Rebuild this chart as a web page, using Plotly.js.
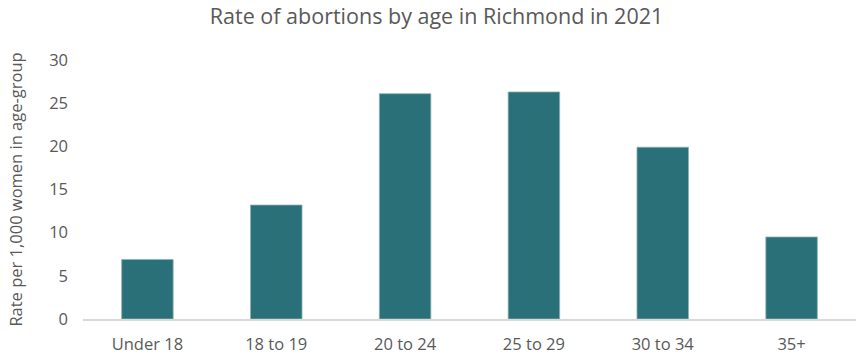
<!DOCTYPE html>
<html>
<head>
<meta charset="utf-8">
<script src="https://cdn.plot.ly/plotly-3.0.1.min.js"></script>
<style>html,body{margin:0;padding:0;background:#fff;}#chart{width:856px;height:356px;}</style>
</head>
<body>
<div id="chart"></div>
<script>
const categories = ["Under 18", "18 to 19", "20 to 24", "25 to 29", "30 to 34", "35+"];
const rates = [6.9, 13.2, 26.1, 26.3, 19.9, 9.5];
const yTicks = [0, 5, 10, 15, 20, 25, 30];

const FONT = "Open Sans, sans-serif";
const GREY = "#595959";

Plotly.newPlot("chart", [{
  type: "bar",
  x: categories,
  y: rates,
  marker: {color: "#297079", line: {color: "#8fb3b8", width: 0.8}},
  hoverinfo: "x+y"
}], {
  width: 856,
  height: 356,
  margin: {l: 83, r: 0, t: 60, b: 37},
  paper_bgcolor: "#ffffff",
  plot_bgcolor: "#ffffff",
  bargap: 0.6,
  showlegend: false,
  font: {family: FONT, color: GREY, size: 16},
  title: {
    text: "Rate of abortions by age in Richmond in 2021",
    font: {family: FONT, size: 21.5, color: GREY},
    x: 0.51, xanchor: "center",
    y: 0.955, yanchor: "middle", yref: "container"
  },
  xaxis: {
    type: "category",
    showgrid: false,
    zeroline: false,
    showline: true,
    linecolor: "#d9d9d9",
    linewidth: 1.5,
    ticks: "",
    ticklabelstandoff: 10,
    tickfont: {family: FONT, size: 16.5, color: GREY},
    automargin: false
  },
  yaxis: {
    range: [0, 30],
    tickvals: yTicks,
    ticktext: yTicks.map(String),
    showgrid: false,
    zeroline: false,
    showline: false,
    ticks: "",
    ticklabelstandoff: 14,
    tickfont: {family: FONT, size: 16.5, color: GREY},
    automargin: false,
    title: {
      text: "Rate per 1,000 women in age-group",
      font: {family: FONT, size: 16.5, color: GREY},
      standoff: 22
    }
  }
}, {displayModeBar: false, staticPlot: true});
</script>
</body>
</html>
